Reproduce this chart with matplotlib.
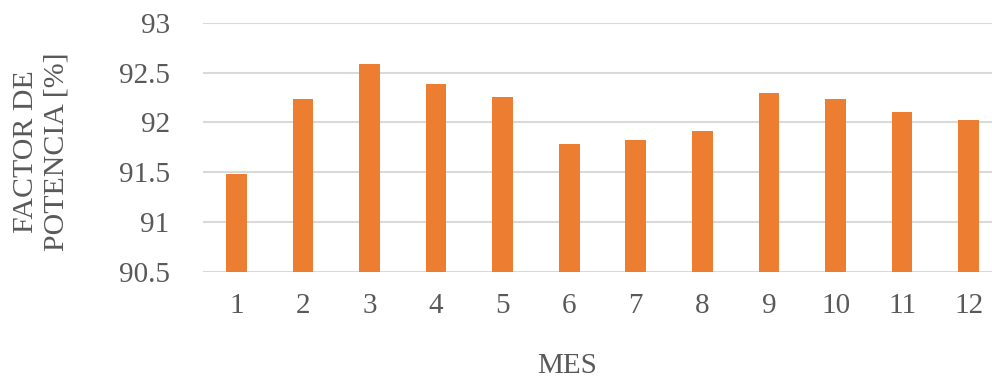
import matplotlib
matplotlib.use("Agg")
import matplotlib.pyplot as plt

meses = [1, 2, 3, 4, 5, 6, 7, 8, 9, 10, 11, 12]
factor_potencia = [91.48, 92.23, 92.59, 92.39, 92.25, 91.78,
                   91.82, 91.91, 92.30, 92.23, 92.10, 92.02]
yticks = [90.5, 91, 91.5, 92, 92.5, 93]
ytick_labels = ["90.5", "91", "91.5", "92", "92.5", "93"]

plt.rcParams["font.family"] = ["Liberation Serif", "DejaVu Serif"]
gray = "#595959"

fig = plt.figure(figsize=(9.92, 3.87), dpi=100)
ax = fig.add_axes([203 / 992, 0.298, 799 / 992, 0.643])

x = list(range(len(meses)))
ax.bar(x, factor_potencia, width=0.31, color="#ED7D31", zorder=3)

ax.set_xlim(-0.5, 11.5)
ax.set_ylim(90.5, 93)
ax.set_yticks(yticks)
ax.set_yticklabels(ytick_labels)
ax.set_xticks(x)
ax.set_xticklabels([str(m) for m in meses])
ax.grid(axis="y", color="#D9D9D9", linewidth=1.5, zorder=0)
ax.set_axisbelow(True)
for s in ax.spines.values():
    s.set_visible(False)
ax.tick_params(axis="both", length=0, labelsize=21, colors=gray)
ax.tick_params(axis="y", pad=24)
ax.tick_params(axis="x", pad=15)

fig.text(567 / 992, 1 - 366 / 387, "MES", ha="center", va="center",
         fontsize=21, color=gray)
fig.text(41 / 992, 1 - 152 / 387, "FACTOR DE\nPOTENCIA [%]", rotation=90,
         ha="center", va="center", multialignment="center",
         fontsize=21.5, color=gray, linespacing=1.2)

fig.savefig("out.png", dpi=100)
